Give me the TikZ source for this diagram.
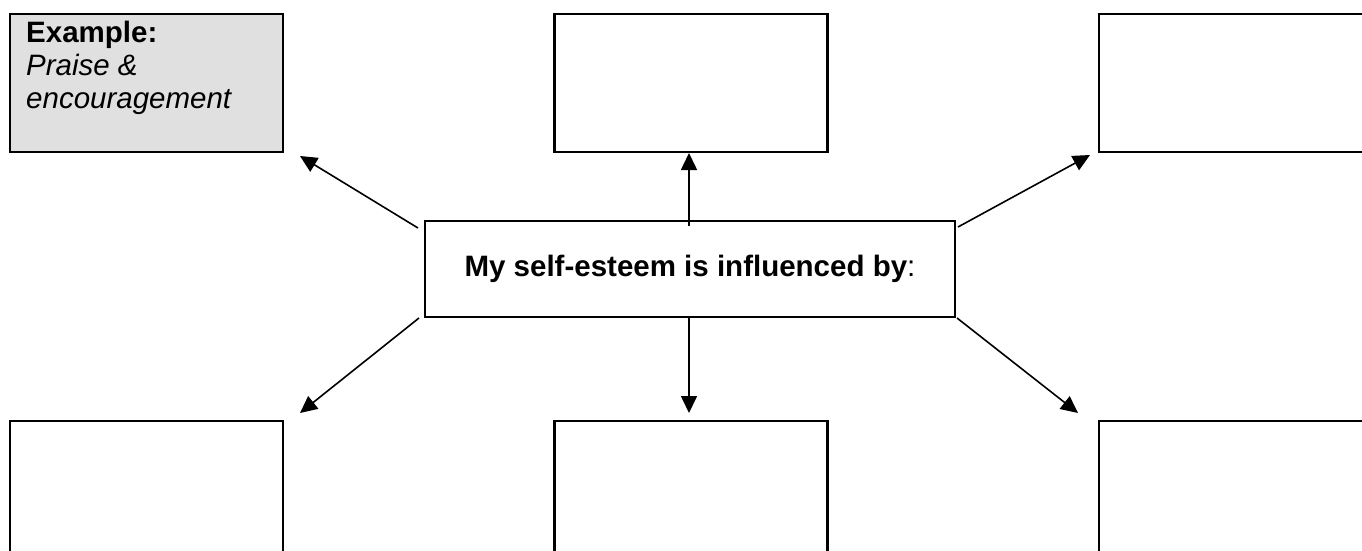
\documentclass[tikz,border=0pt]{standalone}
\usepackage{fontspec}
\setmainfont{Liberation Sans}
\usetikzlibrary{arrows.meta}
\definecolor{exgray}{HTML}{E0E0E0}
\tikzset{
  box/.style={draw=black, line width=2.3pt, minimum width=273pt, minimum height=138pt, inner sep=0pt, outer sep=0pt},
  centerbox/.style={draw=black, line width=2.3pt, minimum width=530pt, minimum height=96pt, inner sep=0pt, outer sep=0pt, font=\fontsize{29.5}{33}\selectfont},
  txt/.style={anchor=base west, inner sep=0pt, font=\fontsize{29.5}{33}\selectfont},
  arr/.style={line width=1.6pt, -{Triangle[length=17pt,width=16pt]}}
}
\begin{document}
\begin{tikzpicture}[x=1pt,y=-1pt]
\clip (0,0) rectangle (1362,550);
\fill[white] (0,0) rectangle (1362,550);
% boxes
\node[box, fill=exgray] (ex) at (146.5,83) {};
\node[box] (tm) at (691,83) {};
\node[box] (tr) at (1235.5,83) {};
\node[box] (bl) at (146.5,490) {};
\node[box] (bm) at (691,490) {};
\node[box] (br) at (1235.5,490) {};
\node[centerbox] (c) at (690,269) {\textbf{My self-esteem is influenced by}:};
% example text
\node[txt] (ex1) at (26,42) {\textbf{Example:}};
\node[txt] (ex2) at (26,75) {\textit{Praise \&}};
\node[txt] (ex3) at (26,108) {\textit{encouragement}};
% connector end points
\coordinate (stl) at (418,228);
\coordinate (etl) at (300,156);
\coordinate (stm) at (689,226);
\coordinate (etm) at (689,153);
\coordinate (str) at (958,227);
\coordinate (etr) at (1090,155);
\coordinate (sbl) at (419,318);
\coordinate (ebl) at (300,413);
\coordinate (sbm) at (689,317);
\coordinate (ebm) at (689,413);
\coordinate (sbr) at (957,318);
\coordinate (ebr) at (1078,413);
\draw[arr] (stl) -- (etl);
\draw[arr] (stm) -- (etm);
\draw[arr] (str) -- (etr);
\draw[arr] (sbl) -- (ebl);
\draw[arr] (sbm) -- (ebm);
\draw[arr] (sbr) -- (ebr);
\end{tikzpicture}
\end{document}
